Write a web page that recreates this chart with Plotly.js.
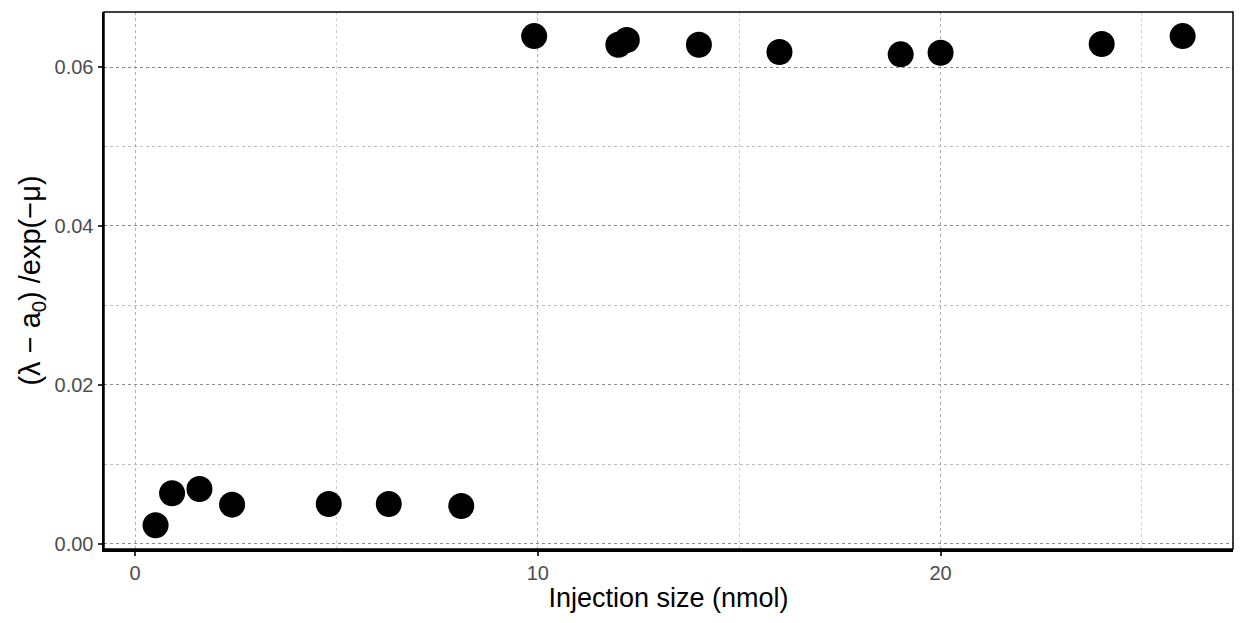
<!DOCTYPE html>
<html>
<head>
<meta charset="utf-8">
<script src="https://cdn.plot.ly/plotly-3.0.1.min.js"></script>
<style>
  html, body { margin: 0; padding: 0; background: #fff; }
  #chart { width: 1246px; height: 623px; }
</style>
</head>
<body>
<div id="chart"></div>
<script>
// injection size (nmol) and normalised value
const injectionSize = [0.51, 0.92, 1.60, 2.41, 4.81, 6.30, 8.10, 9.91, 12.0, 12.21, 14.0, 16.0, 19.01, 20.0, 24.0, 26.01];
const ratio = [0.00232, 0.00634, 0.00689, 0.00491, 0.0050, 0.0050, 0.00475, 0.0639, 0.0628, 0.0634, 0.0628, 0.0619, 0.0616, 0.0618, 0.0629, 0.0639];

const xTicks = [0, 10, 20];
const yTicks = [0, 0.02, 0.04, 0.06];
const yTickText = ['0.00', '0.02', '0.04', '0.06'];

const font = 'Liberation Sans, Arial, sans-serif';

const trace = {
  x: injectionSize,
  y: ratio,
  type: 'scatter',
  mode: 'markers',
  marker: { color: '#000', size: 26 },
  hoverinfo: 'x+y'
};

const layout = {
  width: 1246,
  height: 623,
  margin: { l: 104, r: 13, t: 12, b: 74 },
  paper_bgcolor: '#fff',
  plot_bgcolor: '#fff',
  showlegend: false,
  font: { family: font },
  xaxis: {
    range: [-0.77, 27.26],
    tickvals: xTicks,
    ticktext: xTicks.map(String),
    ticks: 'outside',
    ticklen: 4,
    tickwidth: 2,
    tickcolor: '#333',
    tickfont: { size: 20, color: '#4d4d4d', family: font },
    showline: true,
    linecolor: '#000',
    linewidth: 2.5,
    zeroline: false,
    showgrid: true,
    gridcolor: '#b0b0b0',
    gridwidth: 1,
    griddash: 'dot',
    minor: { tickvals: [5, 15, 25], showgrid: true, gridcolor: '#cfcfcf', gridwidth: 1, griddash: 'dot', ticks: '' },
    title: { text: 'Injection size (nmol)', font: { size: 27, color: '#000', family: font }, standoff: 5 }
  },
  yaxis: {
    range: [-0.00067, 0.06693],
    tickvals: yTicks,
    ticktext: yTickText,
    ticks: 'outside',
    ticklen: 4,
    tickwidth: 2,
    tickcolor: '#333',
    tickfont: { size: 20, color: '#4d4d4d', family: font },
    showline: true,
    linecolor: '#000',
    linewidth: 2.5,
    zeroline: false,
    showgrid: true,
    gridcolor: '#8a8a8a',
    gridwidth: 1,
    griddash: 'dot',
    minor: { tickvals: [0.01, 0.03, 0.05], showgrid: true, gridcolor: '#bdbdbd', gridwidth: 1, griddash: 'dot', ticks: '' },
    title: { text: '(λ − a<sub>0</sub>) /exp(−μ)', font: { size: 29, color: '#000', family: font }, standoff: 6 }
  },
  shapes: [{
    type: 'rect', xref: 'paper', yref: 'paper', x0: 0, x1: 1, y0: 0, y1: 1,
    line: { color: '#000', width: 1.5 }, layer: 'above'
  }]
};

Plotly.newPlot('chart', [trace], layout, { displayModeBar: false, staticPlot: true });
</script>
</body>
</html>
